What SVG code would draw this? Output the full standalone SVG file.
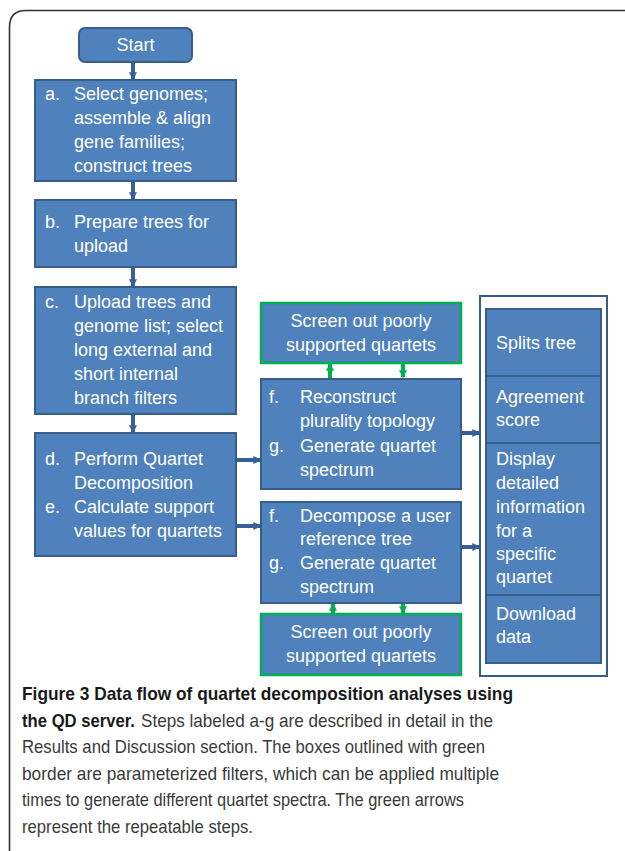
<svg xmlns="http://www.w3.org/2000/svg" width="625" height="851" viewBox="0 0 625 851">
<defs>
<style>
.box{fill:#4F81BD;stroke:#385D8A;stroke-width:2}
.gbox{fill:#4F81BD;stroke:#00B050;stroke-width:2.5}
.t{font-family:"Liberation Sans",Arial,sans-serif;font-size:18px;fill:#FFFFFF}
.c{stroke:#36609A;stroke-width:4;fill:none}
.g{stroke:#00B050;stroke-width:4;fill:none}
.cap{font-family:"Liberation Sans",Arial,sans-serif;font-size:19px;fill:#3a3a3a}
.capb{font-weight:bold;fill:#1a1a1a}
</style>
<marker id="ab" viewBox="0 0 6 6" refX="5" refY="3" markerWidth="2" markerHeight="2" orient="auto" markerUnits="strokeWidth">
<path d="M0,0 L6,3 L0,6 Z" fill="#36609A"/>
</marker>
<marker id="ag" viewBox="0 0 6 6" refX="5" refY="3" markerWidth="2" markerHeight="2" orient="auto" markerUnits="strokeWidth">
<path d="M0,0 L6,3 L0,6 Z" fill="#00B050"/>
</marker>
</defs>
<rect width="625" height="851" fill="#FFFFFF"/>
<path d="M9.5,851 V27 Q9.5,10.5 26,10.5 H625" fill="none" stroke="#333333" stroke-width="1.6"/>

<g id="connectors">
<line class="c" x1="133" y1="62" x2="133" y2="79" marker-end="url(#ab)"/>
<line class="c" x1="133" y1="181" x2="133" y2="199" marker-end="url(#ab)"/>
<line class="c" x1="133" y1="267" x2="133" y2="286" marker-end="url(#ab)"/>
<line class="c" x1="133" y1="414" x2="133" y2="432" marker-end="url(#ab)"/>
<line class="c" x1="236" y1="460" x2="260" y2="460" marker-end="url(#ab)"/>
<line class="c" x1="236" y1="526" x2="260" y2="526" marker-end="url(#ab)"/>
<line class="c" x1="461" y1="433" x2="479" y2="433" marker-end="url(#ab)"/>
<line class="c" x1="461" y1="547" x2="479" y2="547" marker-end="url(#ab)"/>
<line class="g" x1="330" y1="378" x2="330" y2="364" marker-end="url(#ag)"/>
<line class="g" x1="403" y1="363" x2="403" y2="377" marker-end="url(#ag)"/>
<line class="g" x1="333" y1="614" x2="333" y2="604" marker-end="url(#ag)"/>
<line class="g" x1="403" y1="603" x2="403" y2="613" marker-end="url(#ag)"/>
</g>

<g id="start">
<rect class="box" x="79" y="28" width="113" height="34" rx="6"/>
<text class="t" x="135.5" y="51" text-anchor="middle">Start</text>
</g>

<g id="step-a">
<rect class="box" x="35" y="80" width="201" height="101"/>
<text class="t"><tspan x="45" y="100">a.</tspan><tspan x="74" y="100">Select genomes;</tspan><tspan x="74" y="124">assemble &amp; align</tspan><tspan x="74" y="148">gene families;</tspan><tspan x="74" y="172">construct trees</tspan></text>
</g>

<g id="step-b">
<rect class="box" x="35" y="200" width="201" height="67"/>
<text class="t"><tspan x="45" y="228">b.</tspan><tspan x="74" y="228">Prepare trees for</tspan><tspan x="74" y="252">upload</tspan></text>
</g>

<g id="step-c">
<rect class="box" x="35" y="287" width="201" height="127"/>
<text class="t"><tspan x="45" y="308">c.</tspan><tspan x="74" y="308">Upload trees and</tspan><tspan x="74" y="332">genome list; select</tspan><tspan x="74" y="356">long external and</tspan><tspan x="74" y="380">short internal</tspan><tspan x="74" y="404">branch filters</tspan></text>
</g>

<g id="step-de">
<rect class="box" x="35" y="433" width="201" height="123"/>
<text class="t"><tspan x="45" y="465">d.</tspan><tspan x="74" y="465">Perform Quartet</tspan><tspan x="74" y="489">Decomposition</tspan><tspan x="45" y="513">e.</tspan><tspan x="74" y="513">Calculate support</tspan><tspan x="74" y="537">values for quartets</tspan></text>
</g>

<g id="filter-top">
<rect class="gbox" x="261" y="303" width="200" height="60"/>
<text class="t" text-anchor="middle"><tspan x="361" y="327">Screen out poorly</tspan><tspan x="361" y="351">supported quartets</tspan></text>
</g>

<g id="step-fg-plurality">
<rect class="box" x="261" y="379" width="200" height="110"/>
<text class="t"><tspan x="269" y="403">f.</tspan><tspan x="300" y="403">Reconstruct</tspan><tspan x="300" y="427">plurality topology</tspan><tspan x="269" y="452">g.</tspan><tspan x="300" y="452">Generate quartet</tspan><tspan x="300" y="476">spectrum</tspan></text>
</g>

<g id="step-fg-reference">
<rect class="box" x="261" y="502" width="200" height="101"/>
<text class="t"><tspan x="269" y="522">f.</tspan><tspan x="300" y="522">Decompose a user</tspan><tspan x="300" y="545">reference tree</tspan><tspan x="269" y="569">g.</tspan><tspan x="300" y="569">Generate quartet</tspan><tspan x="300" y="593">spectrum</tspan></text>
</g>

<g id="filter-bottom">
<rect class="gbox" x="261" y="614" width="200" height="61"/>
<text class="t" text-anchor="middle"><tspan x="361" y="638">Screen out poorly</tspan><tspan x="361" y="662">supported quartets</tspan></text>
</g>

<g id="outputs">
<rect x="480" y="296" width="127" height="380" fill="#FFFFFF" stroke="#385D8A" stroke-width="2"/>
</g>
<g id="splits-tree">
<rect class="box" x="486" y="309" width="115" height="67"/>
<text class="t" x="496" y="349">Splits tree</text>
</g>
<g id="agreement-score">
<rect class="box" x="486" y="376" width="115" height="67"/>
<text class="t"><tspan x="496" y="403">Agreement</tspan><tspan x="496" y="426">score</tspan></text>
</g>
<g id="display-info">
<rect class="box" x="486" y="443" width="115" height="152"/>
<text class="t"><tspan x="496" y="465">Display</tspan><tspan x="496" y="489">detailed</tspan><tspan x="496" y="513">information</tspan><tspan x="496" y="537">for a</tspan><tspan x="496" y="560">specific</tspan><tspan x="496" y="583">quartet</tspan></text>
</g>
<g id="download">
<rect class="box" x="486" y="595" width="115" height="68"/>
<text class="t"><tspan x="496" y="620">Download</tspan><tspan x="496" y="643">data</tspan></text>
</g>

<g id="caption">
<text class="cap capb" x="22" y="700" textLength="491" lengthAdjust="spacingAndGlyphs">Figure 3 Data flow of quartet decomposition analyses using</text>
<text class="cap capb" x="22" y="727" textLength="113" lengthAdjust="spacingAndGlyphs">the QD server.</text>
<text class="cap" x="141" y="727" textLength="352" lengthAdjust="spacingAndGlyphs">Steps labeled a-g are described in detail in the</text>
<text class="cap" x="22" y="753" textLength="463" lengthAdjust="spacingAndGlyphs">Results and Discussion section. The boxes outlined with green</text>
<text class="cap" x="22" y="780" textLength="477" lengthAdjust="spacingAndGlyphs">border are parameterized filters, which can be applied multiple</text>
<text class="cap" x="22" y="806" textLength="442" lengthAdjust="spacingAndGlyphs">times to generate different quartet spectra. The green arrows</text>
<text class="cap" x="22" y="833" textLength="231" lengthAdjust="spacingAndGlyphs">represent the repeatable steps.</text>
</g>
</svg>
